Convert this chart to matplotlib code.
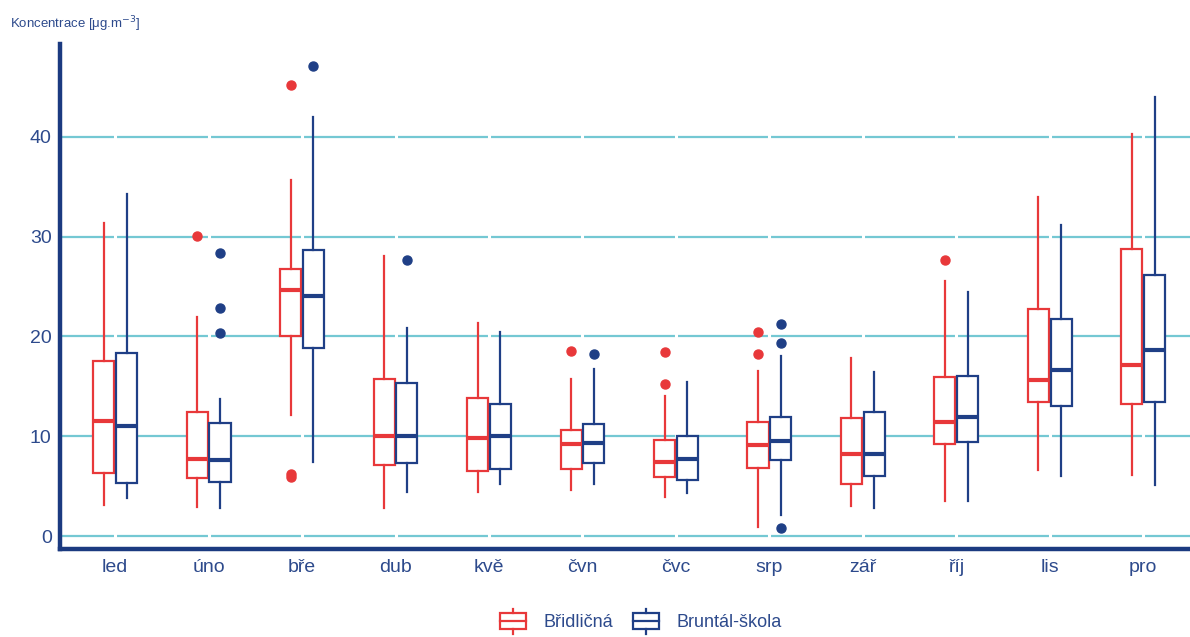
import matplotlib
matplotlib.use("Agg")
import matplotlib.pyplot as plt
from matplotlib.legend_handler import HandlerBase
from matplotlib.patches import Rectangle
from matplotlib.lines import Line2D

plt.rcParams["font.family"] = ["Liberation Sans", "DejaVu Sans"]

months = ["led", "úno", "bře", "dub", "kvě", "čvn", "čvc", "srp", "zář", "říj", "lis", "pro"]
series_names = ["Břidličná", "Bruntál-škola"]

# five-number summaries: whislo, q1, med, q3, whishi
brid_low = [3.1, 2.9, 12.1, 2.8, 4.4, 4.6, 3.9, 0.9, 3.0, 3.5, 6.6, 6.1]
brid_q1 = [6.3, 5.8, 20.0, 7.1, 6.5, 6.7, 5.9, 6.8, 5.2, 9.2, 13.4, 13.2]
brid_med = [11.5, 7.7, 24.7, 10.0, 9.8, 9.2, 7.4, 9.1, 8.2, 11.4, 15.6, 17.1]
brid_q3 = [17.5, 12.4, 26.8, 15.7, 13.8, 10.6, 9.6, 11.4, 11.8, 15.9, 22.8, 28.8]
brid_high = [31.4, 21.9, 35.7, 28.1, 21.3, 15.7, 14.0, 16.5, 17.8, 25.6, 34.0, 40.3]
brid_out = [[], [30.1], [45.2, 6.2, 5.9], [], [], [18.5], [18.4, 15.2], [20.4, 18.2], [], [27.7], [], []]

brun_low = [3.8, 2.8, 7.4, 4.4, 5.2, 5.2, 4.3, 2.1, 2.8, 3.5, 6.0, 5.1]
brun_q1 = [5.3, 5.4, 18.8, 7.3, 6.7, 7.3, 5.6, 7.6, 6.0, 9.4, 13.0, 13.4]
brun_med = [11.0, 7.6, 24.1, 10.0, 10.0, 9.3, 7.7, 9.5, 8.2, 11.9, 16.6, 18.6]
brun_q3 = [18.3, 11.3, 28.7, 15.3, 13.2, 11.2, 10.0, 11.9, 12.4, 16.0, 21.7, 26.2]
brun_high = [34.3, 13.7, 42.0, 20.8, 20.4, 16.7, 15.4, 18.0, 16.4, 24.5, 31.2, 44.0]
brun_out = [[], [28.4, 22.9, 20.3], [47.1], [27.7], [], [18.2], [], [21.2, 19.3, 0.8], [], [], [], []]

RED = "#e8383a"
BLUE = "#1f3f86"
NAVY = "#1b3a80"
TXT = "#2d4a8c"
GRID = "#74c8d3"


def stats(low, q1, med, q3, high, out):
    return [dict(whislo=a, q1=b, med=c, q3=d, whishi=e, fliers=f)
            for a, b, c, d, e, f in zip(low, q1, med, q3, high, out)]


fig = plt.figure(figsize=(11.9, 6.37), dpi=100)
ax = fig.add_axes([0.0504, 0.138, 0.9496, 0.793])

pos = list(range(len(months)))
off = 0.122
w = 0.225

for st, color, shift in [
    (stats(brid_low, brid_q1, brid_med, brid_q3, brid_high, brid_out), RED, -off),
    (stats(brun_low, brun_q1, brun_med, brun_q3, brun_high, brun_out), BLUE, off),
]:
    ax.bxp(st, positions=[p + shift for p in pos], widths=w, showcaps=False,
           patch_artist=True, manage_ticks=False,
           boxprops=dict(facecolor="white", edgecolor=color, linewidth=1.6),
           whiskerprops=dict(color=color, linewidth=1.6),
           medianprops=dict(color=color, linewidth=3.0),
           flierprops=dict(marker="o", markerfacecolor=color, markeredgecolor=color,
                           markersize=6.5, linestyle="none"))

ax.set_xlim(-0.59, 11.5)
ax.set_ylim(-1.3, 49.3)
ax.set_yticks([0, 10, 20, 30, 40])
ax.set_xticks(pos)
ax.set_xticklabels(months)
ax.tick_params(length=0, labelsize=14, labelcolor=TXT)
ax.tick_params(axis="y", pad=6)
ax.tick_params(axis="x", pad=7)

ax.set_axisbelow(True)
ax.grid(axis="y", color=GRID, linewidth=1.6)
for p in pos:
    ax.axvline(p, color="white", linewidth=2.2, zorder=0.9)

for s in ["top", "right"]:
    ax.spines[s].set_visible(False)
for s in ["left", "bottom"]:
    ax.spines[s].set_color(NAVY)
    ax.spines[s].set_linewidth(3.2)

fig.text(0.008, 0.962, "Koncentrace [μg.m$^{-3}$]", color=TXT, fontsize=9.5, va="center")


class BoxHandler(HandlerBase):
    def create_artists(self, legend, orig, x0, y0, width, height, fontsize, trans):
        c = orig.get_color()
        bw = width * 0.9
        bx = x0 + (width - bw) / 2
        r = Rectangle((bx, y0 - height * 0.15), bw, height * 1.3, facecolor="white",
                      edgecolor=c, linewidth=1.6, transform=trans)
        m = Line2D([bx, bx + bw], [y0 + height / 2] * 2, color=c, lw=1.6, transform=trans)
        t = Line2D([x0 + width / 2] * 2, [y0 + height * 1.15, y0 + height * 1.5], color=c,
                   lw=1.6, transform=trans)
        b = Line2D([x0 + width / 2] * 2, [y0 - height * 0.15, y0 - height * 0.5], color=c,
                   lw=1.6, transform=trans)
        return [r, m, t, b]


handles = [Line2D([], [], color=RED), Line2D([], [], color=BLUE)]
fig.legend(handles, series_names, loc="center", bbox_to_anchor=(0.538, 0.022), ncol=2,
           frameon=False, fontsize=13, labelcolor=TXT, handlelength=1.6, handletextpad=0.9,
           columnspacing=1.0, handler_map={Line2D: BoxHandler()})

fig.savefig("out.png", dpi=100)
